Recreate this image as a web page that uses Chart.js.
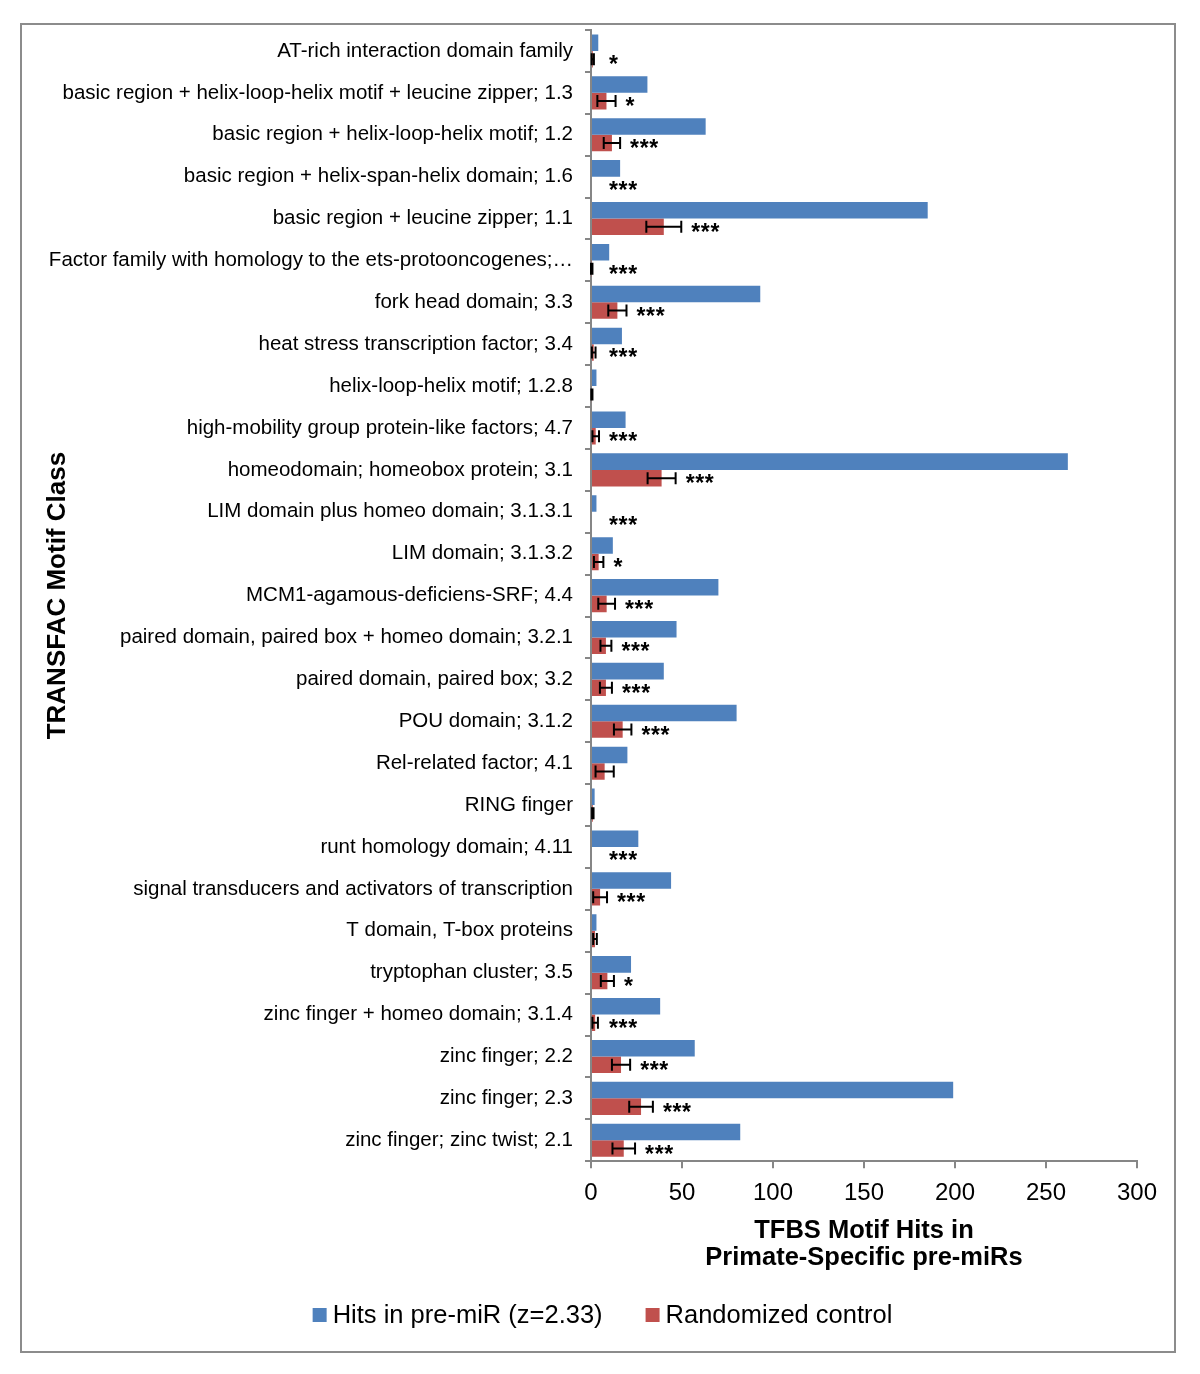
<!DOCTYPE html>
<html>
<head>
<meta charset="utf-8">
<script src="https://cdn.jsdelivr.net/npm/chart.js@4/dist/chart.umd.min.js"></script>
<style>
html,body{margin:0;padding:0;background:#fff;}
#wrap{position:relative;width:1200px;height:1374px;overflow:hidden;}
#frame{position:absolute;left:20px;top:23px;width:1152px;height:1326px;border:2px solid #8c8c8c;}
#c{position:absolute;left:0;top:0;}
</style>
</head>
<body>
<div id="wrap"><div id="frame"></div><canvas id="c" width="1200" height="1374"></canvas></div>
<script>
const categories = [
  "AT-rich interaction domain family",
  "basic region + helix-loop-helix motif + leucine zipper; 1.3",
  "basic region + helix-loop-helix motif; 1.2",
  "basic region + helix-span-helix domain; 1.6",
  "basic region + leucine zipper; 1.1",
  "Factor family with homology to the ets-protooncogenes;\u2026",
  "fork head domain; 3.3",
  "heat stress transcription factor; 3.4",
  "helix-loop-helix motif; 1.2.8",
  "high-mobility group protein-like factors; 4.7",
  "homeodomain; homeobox protein; 3.1",
  "LIM domain plus homeo domain; 3.1.3.1",
  "LIM domain; 3.1.3.2",
  "MCM1-agamous-deficiens-SRF; 4.4",
  "paired domain, paired box + homeo domain; 3.2.1",
  "paired domain, paired box; 3.2",
  "POU domain; 3.1.2",
  "Rel-related factor; 4.1",
  "RING finger",
  "runt homology domain; 4.11",
  "signal transducers and activators of transcription",
  "T domain, T-box proteins",
  "tryptophan cluster; 3.5",
  "zinc finger + homeo domain; 3.1.4",
  "zinc finger; 2.2",
  "zinc finger; 2.3",
  "zinc finger; zinc twist; 2.1"
];
const hits = [4, 31, 63, 16, 185, 10, 93, 17, 3, 19, 262, 3, 12, 70, 47, 40, 80, 20, 2, 26, 44, 3, 22, 38, 57, 199, 82];
const control = [1, 8.5, 11.5, 0, 40, 0.4, 14.5, 1.5, 0.5, 2.6, 38.8, 0, 4.2, 8.6, 8.2, 8.2, 17.4, 7.5, 1, 0, 5, 2.2, 9, 2.3, 16.5, 27.5, 18];
const controlErr = [0.6, 5, 4.5, 0, 9.6, 0.4, 5, 1, 0.3, 1.8, 7.7, 0, 2.6, 4.6, 3, 3.3, 4.8, 5, 0.4, 0, 3.8, 1, 3.6, 1.5, 5, 6.5, 6.2];
const significance = ["*", "*", "***", "***", "***", "***", "***", "***", "", "***", "***", "***", "*", "***", "***", "***", "***", "", "", "***", "***", "", "*", "***", "***", "***", "***"];
const xTicks = [0, 50, 100, 150, 200, 250, 300];
const seriesLabels = ["Hits in pre-miR (z=2.33)", "Randomized control"];
const seriesColors = ["#4F81BD", "#C0504D"];

const FONT = "'Liberation Sans', Arial, Helvetica, sans-serif";
const AXIS_GRAY = "#868686";

const errorBarPlugin = {
  id: 'errorBars',
  afterDatasetsDraw(chart) {
    const ctx = chart.ctx;
    const xs = chart.scales.x;
    const meta = chart.getDatasetMeta(1);
    ctx.save();
    ctx.strokeStyle = '#000';
    ctx.lineWidth = 2;
    meta.data.forEach((bar, i) => {
      const v = control[i], e = controlErr[i];
      const y = bar.y;
      let endPx = xs.getPixelForValue(v);
      if (e > 0) {
        const x1 = xs.getPixelForValue(Math.max(0, v - e));
        const x2 = xs.getPixelForValue(v + e);
        ctx.beginPath();
        ctx.moveTo(x1, y); ctx.lineTo(x2, y);
        ctx.moveTo(x1, y - 6); ctx.lineTo(x1, y + 6);
        ctx.moveTo(x2, y - 6); ctx.lineTo(x2, y + 6);
        ctx.stroke();
        endPx = x2;
      }
      const s = significance[i];
      if (s) {
        ctx.font = 'bold 23px ' + FONT;
        ctx.fillStyle = '#000';
        ctx.textAlign = 'left';
        ctx.textBaseline = 'alphabetic';
        const sx = Math.max(endPx + 10, xs.getPixelForValue(0) + 18);
        for (let k = 0; k < s.length; k++) {
          ctx.fillText(s[k], sx + k * 9.6, y + 13);
        }
      }
    });
    ctx.restore();
  }
};

const legendPlugin = {
  id: 'bottomLegend',
  afterDraw(chart) {
    const ctx = chart.ctx;
    ctx.save();
    ctx.font = '25.5px ' + FONT;
    ctx.textBaseline = 'middle';
    ctx.textAlign = 'left';
    const box = 14, gapText = 6, gapItems = 43;
    const ds = chart.data.datasets;
    const widths = ds.map(d => box + gapText + ctx.measureText(d.label).width);
    const total = widths.reduce((a, b) => a + b, 0) + gapItems * (ds.length - 1);
    let x = 602.5 - total / 2;
    const yc = 1315;
    ds.forEach((d, i) => {
      ctx.fillStyle = d.backgroundColor;
      ctx.fillRect(x, yc - box / 2, box, box);
      ctx.fillStyle = '#000';
      ctx.fillText(d.label, x + box + gapText, yc + 1);
      x += widths[i] + gapItems;
    });
    ctx.restore();
  }
};

new Chart(document.getElementById('c'), {
  type: 'bar',
  data: {
    labels: categories,
    datasets: [
      { label: seriesLabels[0], data: hits, backgroundColor: seriesColors[0], borderWidth: 0 },
      { label: seriesLabels[1], data: control, backgroundColor: seriesColors[1], borderWidth: 0 }
    ]
  },
  plugins: [errorBarPlugin, legendPlugin],
  options: {
    indexAxis: 'y',
    responsive: false,
    animation: false,
    devicePixelRatio: 1,
    layout: { padding: { left: 43, right: 63, top: 30, bottom: 102 } },
    datasets: { bar: { categoryPercentage: 0.79, barPercentage: 1.0 } },
    plugins: { legend: { display: false }, tooltip: { enabled: false } },
    scales: {
      x: {
        type: 'linear',
        min: 0, max: 300,
        afterBuildTicks: s => { s.ticks = xTicks.map(v => ({ value: v })); },
        afterFit: s => { s.height = 110.8; },
        ticks: { font: { size: 24, family: FONT }, color: '#000', padding: 11, maxRotation: 0 },
        grid: { drawOnChartArea: false, drawTicks: true, tickLength: 7, color: AXIS_GRAY, lineWidth: 2 },
        border: { display: true, color: AXIS_GRAY, width: 2 },
        title: {
          display: true,
          text: ['TFBS Motif Hits in', 'Primate-Specific pre-miRs'],
          font: { size: 25.5, weight: 'bold', family: FONT, lineHeight: 1.08 },
          color: '#000',
          padding: 0
        }
      },
      y: {
        type: 'category',
        offset: true,
        afterFit: s => { s.width = 591 - 43; },
        ticks: { font: { size: 20.5, family: FONT }, color: '#000', padding: 12, autoSkip: false },
        grid: { offset: true, drawOnChartArea: false, drawTicks: true, tickLength: 6, color: AXIS_GRAY, lineWidth: 2 },
        border: { display: true, color: AXIS_GRAY, width: 2 },
        title: {
          display: true,
          text: 'TRANSFAC Motif Class',
          font: { size: 26, weight: 'bold', family: FONT, lineHeight: 1.15 },
          color: '#000',
          padding: 0
        }
      }
    }
  }
});
</script>
</body>
</html>
